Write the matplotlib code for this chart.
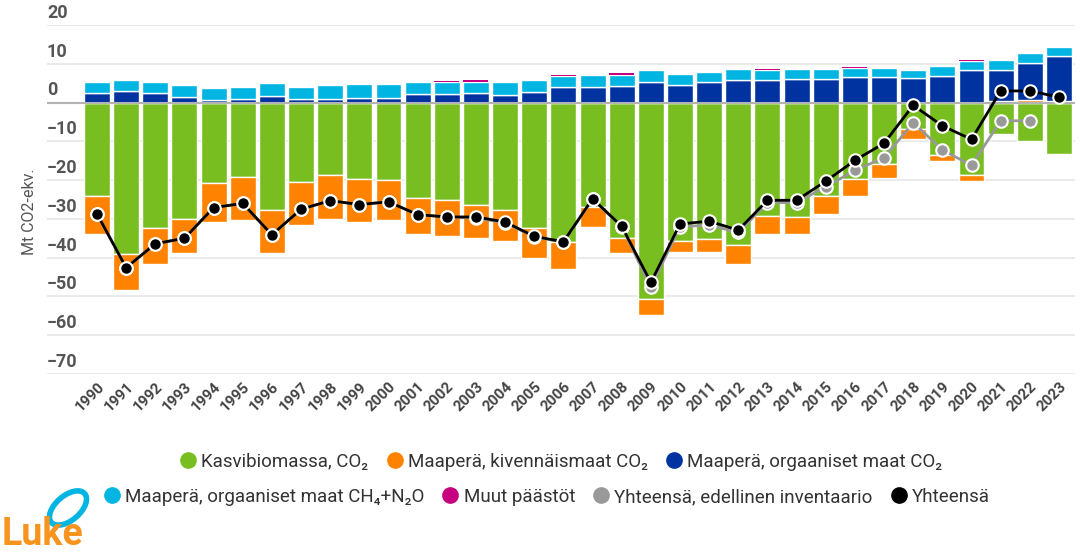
import numpy as np
import matplotlib
matplotlib.use("Agg")
import matplotlib.pyplot as plt
from matplotlib.lines import Line2D
from matplotlib.patches import Ellipse

plt.rcParams['font.family'] = ['Roboto', 'DejaVu Sans']

years = [str(y) for y in range(1990, 2024)]

# Mt CO2-ekv.
kasvibiomassa = [-24.1, -39.1, -32.3, -30.0, -20.7, -19.2, -27.6, -20.5, -18.7, -19.8,
                 -20.1, -24.5, -25.2, -26.3, -27.8, -32.3, -36.0, -27.0, -34.9, -50.6,
                 -35.6, -35.1, -36.8, -29.3, -29.6, -24.0, -19.6, -15.8, -6.7, -13.4,
                 -18.8, -8.2, -9.9, -13.2]
kivennaismaat = [-9.7, -9.2, -9.3, -8.9, -10.1, -11.0, -11.2, -11.2, -11.2, -11.0,
                 -10.2, -9.5, -9.3, -8.6, -8.0, -7.8, -6.9, -5.0, -4.0, -4.1,
                 -2.9, -3.4, -4.8, -4.5, -4.4, -4.7, -4.4, -3.6, -2.8, -1.8,
                 -1.5, 0.3, 0.7, 0.5]
org_co2 = [2.5, 2.9, 2.5, 1.4, 0.6, 0.9, 1.6, 0.8, 1.0, 1.3,
           1.3, 2.2, 2.2, 2.5, 1.9, 2.8, 4.1, 4.1, 4.3, 5.3,
           4.6, 5.3, 5.8, 5.8, 6.0, 6.0, 6.6, 6.6, 6.3, 6.9,
           8.3, 8.2, 9.6, 11.6]
org_ch4_n2o = [2.9, 3.0, 2.9, 3.0, 3.1, 3.2, 3.4, 3.3, 3.4, 3.4,
               3.4, 3.2, 3.0, 2.8, 3.3, 2.9, 2.7, 3.1, 2.9, 3.1,
               2.8, 2.5, 2.8, 2.5, 2.6, 2.6, 2.2, 2.3, 2.2, 2.4,
               2.3, 2.4, 2.4, 2.3]
muut = [0, 0, 0, 0, 0, 0, 0.15, 0, 0, 0,
        0, 0, 0.3, 0.4, 0, 0, 0.4, 0, 0.35, 0,
        0, 0, 0, 0.4, 0, 0, 0.35, 0, 0, 0,
        0.35, 0, 0, 0]
yhteensa = [-28.7, -42.6, -36.4, -35.0, -27.1, -26.0, -34.1, -27.5, -25.3, -26.3,
            -25.6, -28.9, -29.5, -29.5, -30.8, -34.5, -35.9, -24.8, -31.9, -46.4,
            -31.3, -30.6, -32.9, -25.2, -25.2, -20.3, -14.9, -10.5, -0.7, -6.0,
            -9.5, 3.0, 3.0, 1.4]
edellinen = [-28.7, -42.6, -36.4, -35.0, -27.1, -26.0, -34.1, -27.5, -25.3, -26.3,
             -25.6, -28.9, -29.5, -29.8, -31.0, -34.6, -36.0, -24.9, -32.0, -47.6,
             -32.0, -31.6, -33.5, -25.8, -25.8, -21.7, -17.5, -14.2, -5.2, -12.2,
             -16.2, -4.7, -4.7, np.nan]

y_ticks = [20, 10, 0, -10, -20, -30, -40, -50, -60, -70]

series = [
    ("Kasvibiomassa, CO₂", kasvibiomassa, "#78be20"),
    ("Maaperä, kivennäismaat CO₂", kivennaismaat, "#ff8200"),
    ("Maaperä, orgaaniset maat CO₂", org_co2, "#0033a0"),
    ("Maaperä, orgaaniset maat CH₄+N₂O", org_ch4_n2o, "#00b5e2"),
    ("Muut päästöt", muut, "#c6007e"),
]

fig = plt.figure(figsize=(10.86, 5.57), dpi=100)
ax = fig.add_axes([47 / 1086, 1 - 374 / 557, 1028 / 1086, 349 / 557])

x = np.arange(len(years))
pos_base = np.zeros(len(years))
neg_base = np.zeros(len(years))
for name, vals, col in series:
    v = np.array(vals, dtype=float)
    bottom = np.where(v >= 0, pos_base, neg_base)
    if name == "Muut päästöt":
        # thin slivers, no white border so they stay visible
        ax.bar(x, v, 0.86, bottom=bottom, color=col, linewidth=0, zorder=2.5)
    else:
        ax.bar(x, v, 0.89, bottom=bottom, color=col, edgecolor="white", linewidth=1, zorder=2)
    pos_base = pos_base + np.where(v >= 0, v, 0)
    neg_base = neg_base + np.where(v < 0, v, 0)

ax.axhline(0, color="#b3b3b3", linewidth=1.5, zorder=3)

ax.plot(x, edellinen, color="#999999", lw=2, marker="o", ms=9,
        markerfacecolor="#999999", markeredgecolor="white", markeredgewidth=1.5, zorder=4)
ax.plot(x, yhteensa, color="black", lw=2, marker="o", ms=9,
        markerfacecolor="black", markeredgecolor="white", markeredgewidth=1.5, zorder=5)

ax.set_xlim(-1.715, 33.55)
ax.set_ylim(-70, 20)
ax.set_yticks(y_ticks)
ax.set_yticklabels([])
ax.grid(axis="y", color="#e6e6e6", linewidth=1.2, zorder=0)
ax.set_axisbelow(True)
for s in ax.spines.values():
    s.set_visible(False)
ax.tick_params(axis="y", length=0)
ax.tick_params(axis="x", length=0, pad=4)
ax.set_xticks(x)
ax.set_xticklabels(years, rotation=45, ha="right", rotation_mode="anchor",
                   fontsize=11, color="#444444", fontweight="semibold")

for t in y_ticks:
    ax.text(-1.715, t + 0.8, str(t).replace("-", "−"), ha="left", va="bottom",
            fontsize=13, color="#555555", fontweight="semibold")

fig.text(30 / 1086, 1 - 212 / 557, "Mt CO2-ekv.", rotation=90, ha="center", va="center",
         fontsize=11.5, color="#555555")

def handle(col):
    return Line2D([], [], linestyle="none", marker="o", markersize=11,
                  markerfacecolor=col, markeredgecolor=col)

row1 = [handle(c) for _, _, c in series[:3]]
lab1 = [n for n, _, _ in series[:3]]
row2 = [handle(c) for _, _, c in series[3:]] + [handle("#999999"), handle("black")]
lab2 = [n for n, _, _ in series[3:]] + ["Yhteensä, edellinen inventaario", "Yhteensä"]

kw = dict(frameon=False, fontsize=13.5, handletextpad=0.2, columnspacing=0.9,
          handlelength=1.0, labelcolor="#333333")
fig.legend(row1, lab1, loc="center", bbox_to_anchor=(0.516, 1 - 462 / 557), ncol=3, **kw)
fig.legend(row2, lab2, loc="center", bbox_to_anchor=(0.503, 1 - 497 / 557), ncol=4, **kw)

# Luke logo
fig.patches.append(Ellipse((68 / 1086, 1 - 508 / 557), 30 / 1086, 36 / 557, angle=-20,
                           transform=fig.transFigure, fill=False,
                           edgecolor="#00b5e2", linewidth=4))
fig.text(2 / 1086, 1 - 553 / 557, "Luke", ha="left", va="bottom", fontsize=27,
         color="#f7941d", fontweight="semibold")

fig.savefig("out.png", dpi=100)
